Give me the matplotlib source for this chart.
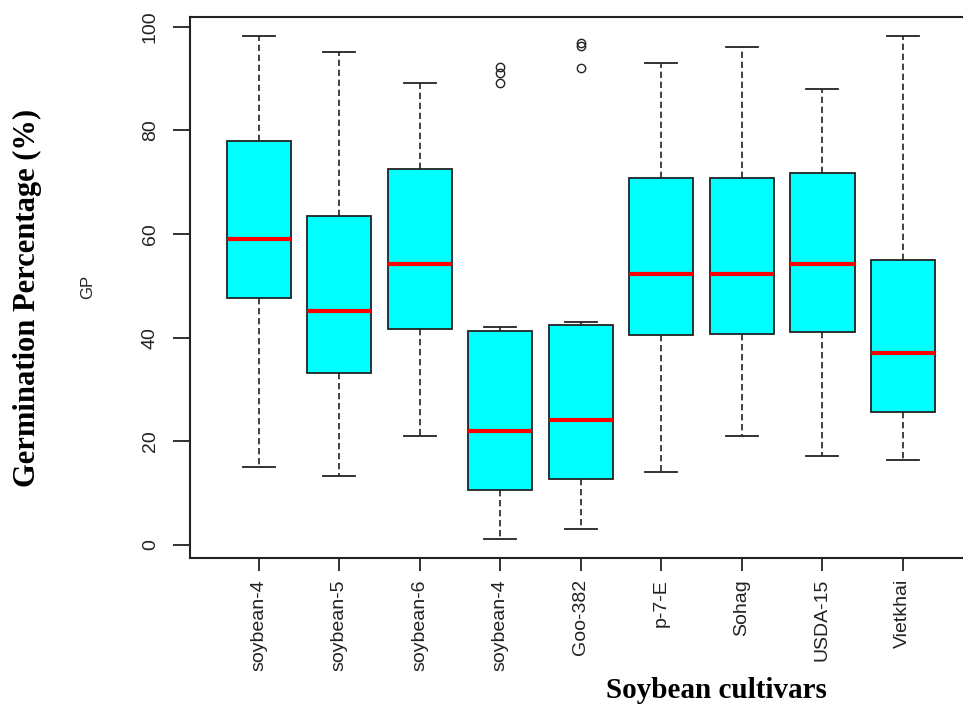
import matplotlib.pyplot as plt

# values
cultivars = ['soybean-4', 'soybean-5', 'soybean-6', 'soybean-4', 'Goo-382',
             'p-7-E', 'Sohag', 'USDA-15', 'Vietkhai']
whisker_low = [15.0, 13.3, 21.0, 1.2, 3.1, 14.1, 21.1, 17.2, 16.4]
q1 = [47.6, 33.2, 41.6, 10.6, 12.7, 40.6, 40.7, 41.1, 25.6]
median = [59.0, 45.1, 54.2, 22.0, 24.1, 52.2, 52.2, 54.2, 37.0]
q3 = [77.9, 63.5, 72.5, 41.2, 42.4, 70.8, 70.8, 71.8, 55.0]
whisker_high = [98.2, 95.1, 89.2, 42.0, 43.0, 93.0, 96.0, 87.9, 98.2]
outliers = [[], [], [], [92.2, 91.0, 89.2], [96.8, 96.3, 92.1], [], [], [], []]

plt.rcParams['font.family'] = ['Liberation Sans', 'DejaVu Sans']

fig = plt.figure(figsize=(9.63, 7.09), dpi=100)
ax = fig.add_axes([0.1968, 0.2126, 0.8126, 0.763])

stats = []
for i in range(len(cultivars)):
    stats.append({'whislo': whisker_low[i], 'q1': q1[i], 'med': median[i],
                  'q3': q3[i], 'whishi': whisker_high[i], 'fliers': outliers[i]})

ax.bxp(stats, positions=range(1, len(cultivars) + 1), widths=0.8, capwidths=0.4,
       patch_artist=True,
       boxprops=dict(facecolor='#00FFFF', edgecolor='#222222', linewidth=1.3),
       medianprops=dict(color='#FF0000', linewidth=3),
       whiskerprops=dict(color='#222222', linewidth=1.2, linestyle=(0, (3.8, 2.2))),
       capprops=dict(color='#222222', linewidth=1.3),
       flierprops=dict(marker='o', markerfacecolor='none', markeredgecolor='#222222',
                       markersize=6, markeredgewidth=1))

ax.set_xlim(0.14, 9.86)
ax.set_ylim(-2.57, 101.8)
ax.set_yticks([0, 20, 40, 60, 80, 100])
ax.set_xticks(range(1, len(cultivars) + 1))
ax.set_xticklabels(cultivars, rotation=90, va='top', ha='center')
for lab in ax.get_yticklabels():
    lab.set_rotation(90)
    lab.set_va('center')
ax.tick_params(axis='y', length=12, width=1.3, pad=10, labelsize=14, colors='#222222')
ax.tick_params(axis='x', length=9, width=1.3, pad=6, labelsize=14, colors='#222222')
for s in ax.spines.values():
    s.set_linewidth(1.5)
    s.set_color('#222222')

fig.text(0.0915, 0.595, 'GP', rotation=90, ha='center', va='center', fontsize=12,
         color='#222222')
fig.text(0.028, 0.580, 'Germination Percentage (%)', rotation=90, ha='center',
         va='center', fontsize=22, fontweight='bold', family='Liberation Serif')
fig.text(0.7435, 0.0254, 'Soybean cultivars', ha='center', va='center',
         fontsize=21, fontweight='bold', family='Liberation Serif')

fig.savefig('out.png', dpi=100)
